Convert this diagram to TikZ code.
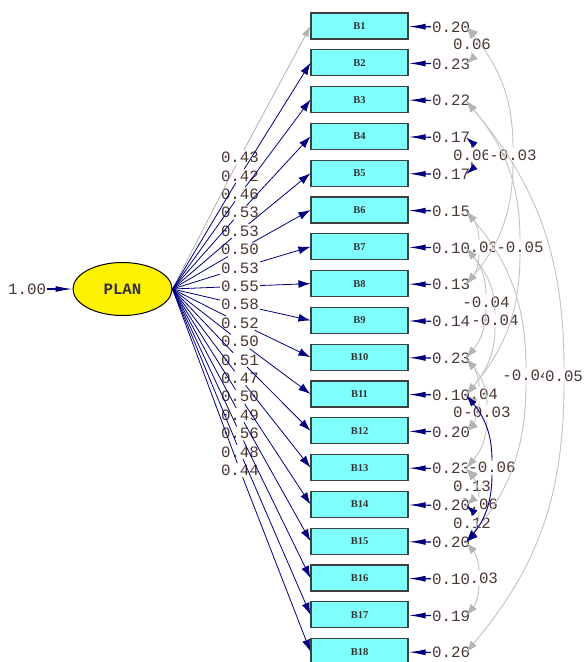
\documentclass[tikz,border=0pt]{standalone}
\usepackage{fontspec}
\setmainfont{Liberation Serif}
\newfontfamily\monofont{Liberation Mono}
\usetikzlibrary{arrows.meta,shapes.geometric,calc}
\definecolor{navyline}{RGB}{0,0,128}
\definecolor{boxcyan}{RGB}{128,255,255}
\definecolor{numtext}{RGB}{75,55,50}
\definecolor{covgray}{RGB}{195,195,195}
\definecolor{covhead}{RGB}{180,180,180}
\tikzset{
  num/.style={font=\monofont\fontsize{15.8}{16}\selectfont, text=numtext, inner xsep=1pt, inner ysep=1.5pt},
  numw/.style={num, fill=white},
  obs/.style={draw=black!75, line width=1.1pt, fill=boxcyan, minimum width=97pt, minimum height=26pt, inner sep=0pt, font=\fontsize{10.5}{10.5}\selectfont\bfseries, text=black!80},
  lat/.style={ellipse, draw=black, line width=1pt, fill=yellow, minimum width=99pt, minimum height=53pt, inner sep=0pt, font=\monofont\fontsize{15.8}{16}\selectfont\bfseries, text=black!80},
  load/.style={draw=navyline, line width=0.8pt},
  loadarr/.style={load, -{Latex[length=12pt,width=8pt]}},
  fixline/.style={draw=gray!60, line width=0.8pt},
  fixarr/.style={fixline, -{Latex[length=11pt,width=7pt]}},
  errarr/.style={draw=navyline, line width=1.2pt, -{Latex[length=17pt,width=6pt]}},
  covS/.style={draw=covgray, line width=0.9pt, {Latex[length=12pt,width=8pt,color=covhead]}-},
  covE/.style={draw=covgray, line width=0.9pt, -{Latex[length=12pt,width=8pt,color=covhead]}},
  sigS/.style={draw=navyline, line width=0.9pt, {Latex[length=12pt,width=7pt]}-},
  sigE/.style={draw=navyline, line width=0.9pt, -{Latex[length=12pt,width=7pt]}}
}
\begin{document}
\begin{tikzpicture}[x=1pt,y=-1pt]
\useasboundingbox (0,0) rectangle (585,662);
\fill[white] (0,0) rectangle (585,662);
% latent variable
\node[lat] (P) at (122.5,289) {PLAN};
\node[num, anchor=west] (V) at (7,289) {1.00};
\draw[errarr] (V) -- (P);
% observed variables
\foreach \i in {1,...,18} {
  \node[obs] (B\i) at (359.5,{26+(\i-1)*36.8}) {B\i};
  \coordinate (c\i) at (466,{27+(\i-1)*36.8});
}
% loadings
\foreach \i/\v in {1/0.43,2/0.42,3/0.46,4/0.53,5/0.53,6/0.50,7/0.53,8/0.55,9/0.58,10/0.52,11/0.50,12/0.51,13/0.47,14/0.50,15/0.49,16/0.56,17/0.48,18/0.44} {
  \node[num] (L\i) at ($(P.east)!0.5!(B\i.west)+(-1.5,0)$) {\v};
}
\draw[fixline] (P.east) -- (L1);
\draw[fixarr] (L1) -- (B1.west);
\foreach \i in {2,...,18} {
  \draw[load] (P.east) -- (L\i);
  \draw[loadarr] (L\i) -- (B\i.west);
}
% covariance labels lying under the error values
\node[numw] (K4) at (479,246.8) {0.03};
\node[numw] (K10) at (479,394) {0.04};
\node[numw] (K15) at (479,504.4) {0.06};
\node[numw] (K17) at (479,578) {0.03};
% error variances
\foreach \i/\v in {1/0.20,2/0.23,3/0.22,4/0.17,5/0.17,6/0.15,7/0.10,8/0.13,9/0.14,10/0.23,11/0.10,12/0.20,13/0.23,14/0.20,15/0.20,16/0.10,17/0.19,18/0.26} {
  \node[numw, anchor=west] (E\i) at (431,{27+(\i-1)*36.8}) {\v};
  \draw[errarr] (E\i) -- (B\i);
}
% covariance labels on top
\node[numw] (K1) at (472,44.4) {0.06};
\node[numw] (K2) at (472,154.8) {0.06};
\node[numw] (K3) at (513,154.8) {-0.03};
\node[numw] (K5) at (520,246.8) {-0.05};
\node[numw] (K6) at (486,302) {-0.04};
\node[numw] (K7) at (495,320.4) {-0.04};
\node[numw] (K8) at (526,375.6) {-0.04};
\node[numw] (K9) at (564,375.8) {0.05};
\node[numw] (K11) at (472,412.4) {0.02};
\node[numw] (K12) at (487,412.4) {-0.03};
\node[numw] (K13) at (492,467.6) {-0.06};
\node[numw] (K14) at (472,486) {0.13};
\node[numw] (K16) at (472,522.8) {0.12};
% covariance arcs
\foreach \a/\b/\k/\o/\n in {1/2/1/-40/40, 1/8/3/-50/50, 6/8/4/-50/50, 3/11/5/-50/50, 7/10/6/-50/50, 7/11/7/-50/50, 6/15/8/-50/50, 3/18/9/-50/50, 10/12/10/-50/50, 11/12/11/-40/40, 10/13/12/-50/50, 13/14/14/-40/40, 13/15/15/-50/50, 15/17/17/-50/50} {
  \draw[covS] (c\a) to[out=\o,in=90] (K\k);
  \draw[covE] (K\k) to[out=-90,in=\n] (c\b);
}
\foreach \a/\b/\k/\o/\n in {4/5/2/-40/40, 11/15/13/-50/50, 14/15/16/-40/40} {
  \draw[sigS] (c\a) to[out=\o,in=90] (K\k);
  \draw[sigE] (K\k) to[out=-90,in=\n] (c\b);
}
\end{tikzpicture}
\end{document}
